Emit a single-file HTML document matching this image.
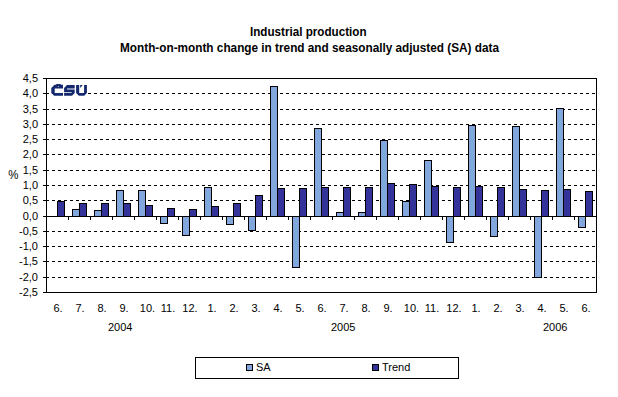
<!DOCTYPE html>
<html><head><meta charset="utf-8"><style>
html,body{margin:0;padding:0;background:#fff;}
svg{display:block;}
.ax{font-family:"Liberation Sans",sans-serif;font-size:11px;fill:#000;}
.tt{font-family:"Liberation Sans",sans-serif;font-size:13px;font-weight:bold;fill:#000;}
</style></head><body>
<svg width="618" height="397" viewBox="0 0 618 397">
<g shape-rendering="crispEdges">
<line x1="46" y1="93.5" x2="596" y2="93.5" stroke="#000" stroke-width="1" stroke-dasharray="3,3"/>
<line x1="46" y1="109.5" x2="596" y2="109.5" stroke="#000" stroke-width="1" stroke-dasharray="3,3"/>
<line x1="46" y1="124.5" x2="596" y2="124.5" stroke="#000" stroke-width="1" stroke-dasharray="3,3"/>
<line x1="46" y1="139.5" x2="596" y2="139.5" stroke="#000" stroke-width="1" stroke-dasharray="3,3"/>
<line x1="46" y1="154.5" x2="596" y2="154.5" stroke="#000" stroke-width="1" stroke-dasharray="3,3"/>
<line x1="46" y1="170.5" x2="596" y2="170.5" stroke="#000" stroke-width="1" stroke-dasharray="3,3"/>
<line x1="46" y1="185.5" x2="596" y2="185.5" stroke="#000" stroke-width="1" stroke-dasharray="3,3"/>
<line x1="46" y1="200.5" x2="596" y2="200.5" stroke="#000" stroke-width="1" stroke-dasharray="3,3"/>
<line x1="46" y1="231.5" x2="596" y2="231.5" stroke="#000" stroke-width="1" stroke-dasharray="3,3"/>
<line x1="46" y1="246.5" x2="596" y2="246.5" stroke="#000" stroke-width="1" stroke-dasharray="3,3"/>
<line x1="46" y1="261.5" x2="596" y2="261.5" stroke="#000" stroke-width="1" stroke-dasharray="3,3"/>
<line x1="46" y1="277.5" x2="596" y2="277.5" stroke="#000" stroke-width="1" stroke-dasharray="3,3"/>
<rect x="57.5" y="201.5" width="7" height="15" fill="#333399" stroke="#000" stroke-width="1"/>
<rect x="72.5" y="209.5" width="7" height="7" fill="#81A7DC" stroke="#000" stroke-width="1"/>
<rect x="79.5" y="203.5" width="7" height="13" fill="#333399" stroke="#000" stroke-width="1"/>
<rect x="94.5" y="210.5" width="7" height="6" fill="#81A7DC" stroke="#000" stroke-width="1"/>
<rect x="101.5" y="203.5" width="7" height="13" fill="#333399" stroke="#000" stroke-width="1"/>
<rect x="116.5" y="190.5" width="7" height="26" fill="#81A7DC" stroke="#000" stroke-width="1"/>
<rect x="123.5" y="203.5" width="7" height="13" fill="#333399" stroke="#000" stroke-width="1"/>
<rect x="138.5" y="190.5" width="7" height="26" fill="#81A7DC" stroke="#000" stroke-width="1"/>
<rect x="145.5" y="205.5" width="7" height="11" fill="#333399" stroke="#000" stroke-width="1"/>
<rect x="160.5" y="216.5" width="7" height="7" fill="#81A7DC" stroke="#000" stroke-width="1"/>
<rect x="167.5" y="208.5" width="7" height="8" fill="#333399" stroke="#000" stroke-width="1"/>
<rect x="182.5" y="216.5" width="7" height="19" fill="#81A7DC" stroke="#000" stroke-width="1"/>
<rect x="189.5" y="209.5" width="7" height="7" fill="#333399" stroke="#000" stroke-width="1"/>
<rect x="204.5" y="187.5" width="7" height="29" fill="#81A7DC" stroke="#000" stroke-width="1"/>
<rect x="211.5" y="206.5" width="7" height="10" fill="#333399" stroke="#000" stroke-width="1"/>
<rect x="226.5" y="216.5" width="7" height="8" fill="#81A7DC" stroke="#000" stroke-width="1"/>
<rect x="233.5" y="203.5" width="7" height="13" fill="#333399" stroke="#000" stroke-width="1"/>
<rect x="248.5" y="216.5" width="7" height="14" fill="#81A7DC" stroke="#000" stroke-width="1"/>
<rect x="255.5" y="195.5" width="7" height="21" fill="#333399" stroke="#000" stroke-width="1"/>
<rect x="270.5" y="86.5" width="7" height="130" fill="#81A7DC" stroke="#000" stroke-width="1"/>
<rect x="277.5" y="188.5" width="7" height="28" fill="#333399" stroke="#000" stroke-width="1"/>
<rect x="292.5" y="216.5" width="7" height="51" fill="#81A7DC" stroke="#000" stroke-width="1"/>
<rect x="299.5" y="188.5" width="7" height="28" fill="#333399" stroke="#000" stroke-width="1"/>
<rect x="314.5" y="128.5" width="7" height="88" fill="#81A7DC" stroke="#000" stroke-width="1"/>
<rect x="321.5" y="187.5" width="7" height="29" fill="#333399" stroke="#000" stroke-width="1"/>
<rect x="336.5" y="212.5" width="7" height="4" fill="#81A7DC" stroke="#000" stroke-width="1"/>
<rect x="343.5" y="187.5" width="7" height="29" fill="#333399" stroke="#000" stroke-width="1"/>
<rect x="358.5" y="212.5" width="7" height="4" fill="#81A7DC" stroke="#000" stroke-width="1"/>
<rect x="365.5" y="187.5" width="7" height="29" fill="#333399" stroke="#000" stroke-width="1"/>
<rect x="380.5" y="140.5" width="7" height="76" fill="#81A7DC" stroke="#000" stroke-width="1"/>
<rect x="387.5" y="183.5" width="7" height="33" fill="#333399" stroke="#000" stroke-width="1"/>
<rect x="402.5" y="201.5" width="7" height="15" fill="#81A7DC" stroke="#000" stroke-width="1"/>
<rect x="409.5" y="184.5" width="7" height="32" fill="#333399" stroke="#000" stroke-width="1"/>
<rect x="424.5" y="160.5" width="7" height="56" fill="#81A7DC" stroke="#000" stroke-width="1"/>
<rect x="431.5" y="186.5" width="7" height="30" fill="#333399" stroke="#000" stroke-width="1"/>
<rect x="446.5" y="216.5" width="7" height="26" fill="#81A7DC" stroke="#000" stroke-width="1"/>
<rect x="453.5" y="187.5" width="7" height="29" fill="#333399" stroke="#000" stroke-width="1"/>
<rect x="468.5" y="125.5" width="7" height="91" fill="#81A7DC" stroke="#000" stroke-width="1"/>
<rect x="475.5" y="186.5" width="7" height="30" fill="#333399" stroke="#000" stroke-width="1"/>
<rect x="490.5" y="216.5" width="7" height="20" fill="#81A7DC" stroke="#000" stroke-width="1"/>
<rect x="497.5" y="187.5" width="7" height="29" fill="#333399" stroke="#000" stroke-width="1"/>
<rect x="512.5" y="126.5" width="7" height="90" fill="#81A7DC" stroke="#000" stroke-width="1"/>
<rect x="519.5" y="189.5" width="7" height="27" fill="#333399" stroke="#000" stroke-width="1"/>
<rect x="534.5" y="216.5" width="7" height="61" fill="#81A7DC" stroke="#000" stroke-width="1"/>
<rect x="541.5" y="190.5" width="7" height="26" fill="#333399" stroke="#000" stroke-width="1"/>
<rect x="556.5" y="108.5" width="7" height="108" fill="#81A7DC" stroke="#000" stroke-width="1"/>
<rect x="563.5" y="189.5" width="7" height="27" fill="#333399" stroke="#000" stroke-width="1"/>
<rect x="578.5" y="216.5" width="7" height="11" fill="#81A7DC" stroke="#000" stroke-width="1"/>
<rect x="585.5" y="191.5" width="7" height="25" fill="#333399" stroke="#000" stroke-width="1"/>
<line x1="46" y1="78.5" x2="597" y2="78.5" stroke="#000"/>
<line x1="596.5" y1="78" x2="596.5" y2="293" stroke="#000"/>
<line x1="46" y1="292.5" x2="597" y2="292.5" stroke="#000"/>
<line x1="46.5" y1="78" x2="46.5" y2="293" stroke="#000"/>
<line x1="43" y1="78.5" x2="49" y2="78.5" stroke="#000"/>
<line x1="43" y1="93.5" x2="49" y2="93.5" stroke="#000"/>
<line x1="43" y1="109.5" x2="49" y2="109.5" stroke="#000"/>
<line x1="43" y1="124.5" x2="49" y2="124.5" stroke="#000"/>
<line x1="43" y1="139.5" x2="49" y2="139.5" stroke="#000"/>
<line x1="43" y1="154.5" x2="49" y2="154.5" stroke="#000"/>
<line x1="43" y1="170.5" x2="49" y2="170.5" stroke="#000"/>
<line x1="43" y1="185.5" x2="49" y2="185.5" stroke="#000"/>
<line x1="43" y1="200.5" x2="49" y2="200.5" stroke="#000"/>
<line x1="43" y1="216.5" x2="49" y2="216.5" stroke="#000"/>
<line x1="43" y1="231.5" x2="49" y2="231.5" stroke="#000"/>
<line x1="43" y1="246.5" x2="49" y2="246.5" stroke="#000"/>
<line x1="43" y1="261.5" x2="49" y2="261.5" stroke="#000"/>
<line x1="43" y1="277.5" x2="49" y2="277.5" stroke="#000"/>
<line x1="43" y1="292.5" x2="49" y2="292.5" stroke="#000"/>
<line x1="46" y1="216.5" x2="597" y2="216.5" stroke="#000"/>
<line x1="68.5" y1="216" x2="68.5" y2="220" stroke="#000"/>
<line x1="90.5" y1="216" x2="90.5" y2="220" stroke="#000"/>
<line x1="112.5" y1="216" x2="112.5" y2="220" stroke="#000"/>
<line x1="134.5" y1="216" x2="134.5" y2="220" stroke="#000"/>
<line x1="156.5" y1="216" x2="156.5" y2="220" stroke="#000"/>
<line x1="178.5" y1="216" x2="178.5" y2="220" stroke="#000"/>
<line x1="200.5" y1="216" x2="200.5" y2="220" stroke="#000"/>
<line x1="222.5" y1="216" x2="222.5" y2="220" stroke="#000"/>
<line x1="244.5" y1="216" x2="244.5" y2="220" stroke="#000"/>
<line x1="266.5" y1="216" x2="266.5" y2="220" stroke="#000"/>
<line x1="288.5" y1="216" x2="288.5" y2="220" stroke="#000"/>
<line x1="310.5" y1="216" x2="310.5" y2="220" stroke="#000"/>
<line x1="332.5" y1="216" x2="332.5" y2="220" stroke="#000"/>
<line x1="354.5" y1="216" x2="354.5" y2="220" stroke="#000"/>
<line x1="376.5" y1="216" x2="376.5" y2="220" stroke="#000"/>
<line x1="398.5" y1="216" x2="398.5" y2="220" stroke="#000"/>
<line x1="420.5" y1="216" x2="420.5" y2="220" stroke="#000"/>
<line x1="442.5" y1="216" x2="442.5" y2="220" stroke="#000"/>
<line x1="464.5" y1="216" x2="464.5" y2="220" stroke="#000"/>
<line x1="486.5" y1="216" x2="486.5" y2="220" stroke="#000"/>
<line x1="508.5" y1="216" x2="508.5" y2="220" stroke="#000"/>
<line x1="530.5" y1="216" x2="530.5" y2="220" stroke="#000"/>
<line x1="552.5" y1="216" x2="552.5" y2="220" stroke="#000"/>
<line x1="574.5" y1="216" x2="574.5" y2="220" stroke="#000"/>
<rect x="49" y="82" width="39" height="16" fill="#fff"/>
</g>
<g fill="#14286E">
<path d="M54.5,84.8 H56 L56.6,84.1 H60.4 L61,84.8 H63 V88.4 H54.7 V93 H63 V95.8 H54.2 L51.3,93 V88 Z"/>
<path d="M57.6,86.6 L58.4,85.9 L59.2,86.6 L58.4,87.3 Z" fill="#fff" opacity="0.7"/>
<path d="M67,85 H74.7 V88.4 H67 V89.4 H74.7 V93 L72,95.7 H64.1 V93 H71.7 V92.2 H64.1 V88 Z"/>
<path d="M76.1,85 H79.2 V92.9 H84.1 V85 H86.9 V93 L84.2,95.7 H78.9 L76.1,93 Z"/>
<path d="M80.1,85 H82.7 L80.3,88 Z"/>
</g>
<text x="38" y="82" text-anchor="end" class="ax">4,5</text>
<text x="38" y="97" text-anchor="end" class="ax">4,0</text>
<text x="38" y="113" text-anchor="end" class="ax">3,5</text>
<text x="38" y="128" text-anchor="end" class="ax">3,0</text>
<text x="38" y="143" text-anchor="end" class="ax">2,5</text>
<text x="38" y="158" text-anchor="end" class="ax">2,0</text>
<text x="38" y="174" text-anchor="end" class="ax">1,5</text>
<text x="38" y="189" text-anchor="end" class="ax">1,0</text>
<text x="38" y="204" text-anchor="end" class="ax">0,5</text>
<text x="38" y="220" text-anchor="end" class="ax">0,0</text>
<text x="38" y="235" text-anchor="end" class="ax">-0,5</text>
<text x="38" y="250" text-anchor="end" class="ax">-1,0</text>
<text x="38" y="265" text-anchor="end" class="ax">-1,5</text>
<text x="38" y="281" text-anchor="end" class="ax">-2,0</text>
<text x="38" y="296" text-anchor="end" class="ax">-2,5</text>
<text x="8.3" y="178.8" class="ax" style="font-size:12.2px" textLength="10.2" lengthAdjust="spacingAndGlyphs">%</text>
<text x="58" y="312" text-anchor="middle" class="ax">6.</text>
<text x="80" y="312" text-anchor="middle" class="ax">7.</text>
<text x="102" y="312" text-anchor="middle" class="ax">8.</text>
<text x="124" y="312" text-anchor="middle" class="ax">9.</text>
<text x="147.5" y="312" text-anchor="middle" class="ax">10.</text>
<text x="168" y="312" text-anchor="middle" class="ax">11.</text>
<text x="190" y="312" text-anchor="middle" class="ax">12.</text>
<text x="212" y="312" text-anchor="middle" class="ax">1.</text>
<text x="234" y="312" text-anchor="middle" class="ax">2.</text>
<text x="256" y="312" text-anchor="middle" class="ax">3.</text>
<text x="278" y="312" text-anchor="middle" class="ax">4.</text>
<text x="300" y="312" text-anchor="middle" class="ax">5.</text>
<text x="322" y="312" text-anchor="middle" class="ax">6.</text>
<text x="344" y="312" text-anchor="middle" class="ax">7.</text>
<text x="366" y="312" text-anchor="middle" class="ax">8.</text>
<text x="388" y="312" text-anchor="middle" class="ax">9.</text>
<text x="411.5" y="312" text-anchor="middle" class="ax">10.</text>
<text x="432" y="312" text-anchor="middle" class="ax">11.</text>
<text x="454" y="312" text-anchor="middle" class="ax">12.</text>
<text x="476" y="312" text-anchor="middle" class="ax">1.</text>
<text x="498" y="312" text-anchor="middle" class="ax">2.</text>
<text x="520" y="312" text-anchor="middle" class="ax">3.</text>
<text x="542" y="312" text-anchor="middle" class="ax">4.</text>
<text x="564" y="312" text-anchor="middle" class="ax">5.</text>
<text x="586" y="312" text-anchor="middle" class="ax">6.</text>
<text x="108" y="331" class="ax">2004</text>
<text x="331" y="331" class="ax">2005</text>
<text x="543" y="331" class="ax">2006</text>
<text x="250" y="36" textLength="116.5" lengthAdjust="spacingAndGlyphs" class="tt">Industrial production</text>
<text x="120" y="52" textLength="379" lengthAdjust="spacingAndGlyphs" class="tt">Month-on-month change in trend and seasonally adjusted (SA) data</text>
<rect x="195.5" y="357.5" width="263" height="21" fill="#fff" stroke="#000"/>
<rect x="246.5" y="364.5" width="6" height="6" fill="#81A7DC" stroke="#000"/>
<rect x="372.5" y="364.5" width="6" height="6" fill="#333399" stroke="#000"/>
<text x="256" y="371" class="ax">SA</text>
<text x="382" y="371" class="ax">Trend</text>
</svg>
</body></html>
